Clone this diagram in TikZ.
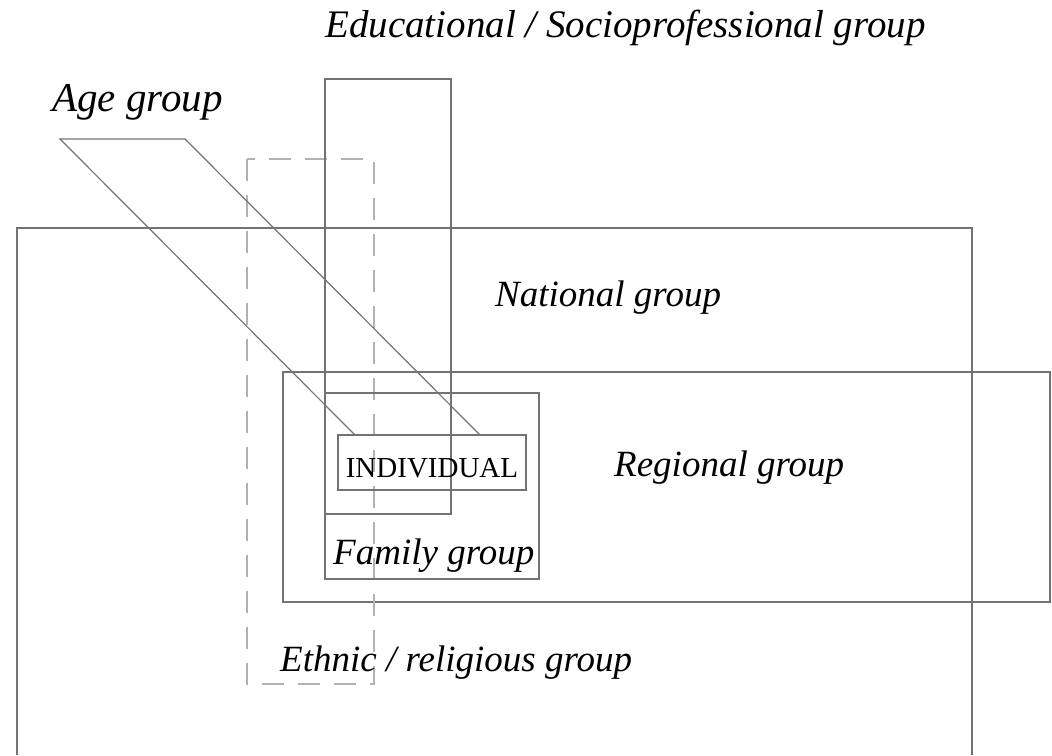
\documentclass[tikz,border=0pt]{standalone}
\usepackage{fontspec}
\setmainfont{Liberation Serif}
\usepackage{tikz}

\tikzset{
  grp/.style={draw=black!55,line width=1.2pt},
  ethnic/.style={draw=black!30,line width=2pt,dash pattern=on 22pt off 14pt},
  lbl/.style={font=\fontsize{37}{40}\selectfont\itshape,anchor=west,inner sep=0pt},
}

\begin{document}
\begin{tikzpicture}[x=1pt,y=-1pt]
\useasboundingbox (0,0) rectangle (1052,755);
% groups
\draw[grp] (17,755) -- (17,228) -- (972,228) -- (972,755);
\draw[grp] (283,372) rectangle (1050,602);
\draw[ethnic] (247,159) rectangle (374,684);
\draw[grp] (325,79) rectangle (451,514);
\draw[grp] (325,393) rectangle (539,579);
\draw[grp] (60,139) -- (185,139) -- (480,435) -- (355,435) -- cycle;
\draw[grp] (338,435) rectangle (526,490);
% labels
\node[lbl,font=\fontsize{39}{42}\selectfont\itshape] (edu) at (325,28) {Educational / Socioprofessional group};
\node[lbl,font=\fontsize{41}{44}\selectfont\itshape] (age) at (52,102) {Age group};
\node[lbl] (nat) at (495,298) {National group};
\node[lbl] (reg) at (614,468) {Regional group};
\node[lbl] (fam) at (333,556) {Family group};
\node[lbl] (eth) at (280,663) {Ethnic / religious group};
\node[font=\fontsize{29}{32}\selectfont,inner sep=0pt] (ind) at (432,468) {INDIVIDUAL};
\end{tikzpicture}
\end{document}
